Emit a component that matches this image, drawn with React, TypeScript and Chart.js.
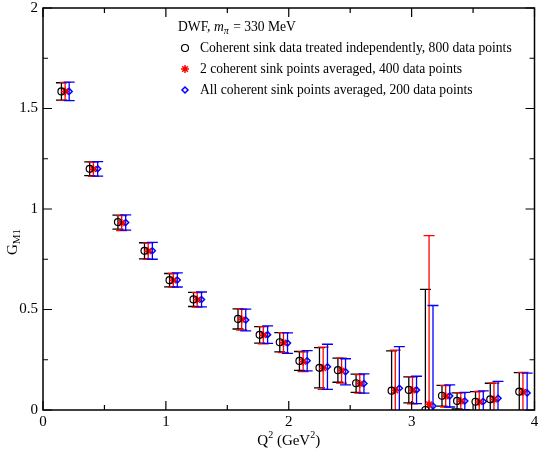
import React, { useEffect, useRef } from 'react';
import { Chart, registerables } from 'chart.js';
Chart.register(...registerables);

// Series 1: coherent sink data treated independently (black circles)
const q2Black = [0.150, 0.380, 0.610, 0.826, 1.030, 1.225, 1.587, 1.763, 1.927, 2.087, 2.250, 2.400, 2.548, 2.837, 2.977, 3.112, 3.247, 3.370, 3.520, 3.640, 3.876];
const gBlack = [1.585, 1.200, 0.935, 0.792, 0.646, 0.550, 0.453, 0.374, 0.337, 0.244, 0.210, 0.198, 0.133, 0.096, 0.100, 0.000, 0.071, 0.045, 0.041, 0.053, 0.091];
const errBlack = [0.043, 0.034, 0.035, 0.040, 0.033, 0.035, 0.050, 0.041, 0.048, 0.047, 0.100, 0.060, 0.045, 0.198, 0.065, 0.600, 0.052, 0.040, 0.050, 0.080, 0.095];

// Series 2: 2 coherent sink points averaged (red stars)
const q2Red = [0.180, 0.410, 0.640, 0.856, 1.060, 1.255, 1.617, 1.793, 1.957, 2.117, 2.280, 2.430, 2.578, 2.867, 3.007, 3.142, 3.277, 3.400, 3.550, 3.670, 3.906];
const gRed = [1.585, 1.198, 0.930, 0.790, 0.645, 0.548, 0.450, 0.372, 0.335, 0.240, 0.208, 0.196, 0.130, 0.098, 0.098, 0.028, 0.068, 0.043, 0.040, 0.052, 0.090];
const errRed = [0.045, 0.035, 0.037, 0.041, 0.034, 0.036, 0.052, 0.043, 0.050, 0.049, 0.105, 0.062, 0.046, 0.200, 0.067, 0.840, 0.053, 0.042, 0.052, 0.082, 0.097];

// Series 3: all coherent sink points averaged (blue diamonds)
const q2Blue = [0.213, 0.445, 0.673, 0.890, 1.093, 1.290, 1.650, 1.828, 1.990, 2.150, 2.315, 2.462, 2.612, 2.900, 3.040, 3.174, 3.310, 3.433, 3.583, 3.703, 3.940];
const gBlue = [1.585, 1.200, 0.933, 0.792, 0.647, 0.550, 0.448, 0.375, 0.333, 0.245, 0.215, 0.190, 0.132, 0.108, 0.100, 0.020, 0.070, 0.045, 0.042, 0.058, 0.085];
const errBlue = [0.046, 0.036, 0.038, 0.042, 0.035, 0.037, 0.054, 0.044, 0.051, 0.050, 0.112, 0.065, 0.048, 0.207, 0.068, 0.500, 0.055, 0.043, 0.053, 0.084, 0.098];

const xTickValues = [0, 1, 2, 3, 4];
const yTickValues = [0, 0.5, 1, 1.5, 2];

const legendTitle = 'DWF, ';
const legendLabels = [
  'Coherent sink data treated independently, 800 data points',
  '2 coherent sink points averaged, 400 data points',
  'All coherent sink points averaged, 200 data points',
];

const FONT = '"Liberation Serif", "Times New Roman", serif';

function pts(xs: number[], ys: number[]) {
  return xs.map((x, i) => ({ x, y: ys[i] }));
}

const errorBarPlugin = {
  id: 'errorBars',
  beforeDatasetsDraw(chart: any) {
    const { ctx, chartArea, scales } = chart;
    ctx.save();
    ctx.beginPath();
    ctx.rect(chartArea.left, chartArea.top, chartArea.right - chartArea.left, chartArea.bottom - chartArea.top);
    ctx.clip();
    chart.data.datasets.forEach((ds: any) => {
      const errs: number[] = ds.errors || [];
      ctx.strokeStyle = ds.borderColor;
      ctx.lineWidth = 1.3;
      ds.data.forEach((p: any, i: number) => {
        const px = scales.x.getPixelForValue(p.x);
        const yTop = scales.y.getPixelForValue(p.y + errs[i]);
        const yBot = scales.y.getPixelForValue(p.y - errs[i]);
        const hw = 5.5;
        ctx.beginPath();
        ctx.moveTo(px, yTop);
        ctx.lineTo(px, yBot);
        ctx.moveTo(px - hw, yTop);
        ctx.lineTo(px + hw, yTop);
        ctx.moveTo(px - hw, yBot);
        ctx.lineTo(px + hw, yBot);
        ctx.stroke();
      });
    });
    ctx.restore();
  },
};

function drawMarker(ctx: CanvasRenderingContext2D, kind: string, x: number, y: number) {
  ctx.save();
  if (kind === 'circle') {
    ctx.strokeStyle = '#000';
    ctx.lineWidth = 1.2;
    ctx.beginPath();
    ctx.arc(x, y, 3.5, 0, Math.PI * 2);
    ctx.stroke();
  } else if (kind === 'star') {
    ctx.strokeStyle = '#ff0000';
    ctx.lineWidth = 1.5;
    const r = 4;
    ctx.beginPath();
    ctx.moveTo(x - r, y); ctx.lineTo(x + r, y);
    ctx.moveTo(x, y - r); ctx.lineTo(x, y + r);
    const d = r * Math.SQRT1_2;
    ctx.moveTo(x - d, y - d); ctx.lineTo(x + d, y + d);
    ctx.moveTo(x - d, y + d); ctx.lineTo(x + d, y - d);
    ctx.stroke();
  } else {
    ctx.strokeStyle = '#0000ff';
    ctx.lineWidth = 1.5;
    const r = 3;
    ctx.beginPath();
    ctx.moveTo(x, y - r); ctx.lineTo(x + r, y); ctx.lineTo(x, y + r); ctx.lineTo(x - r, y); ctx.closePath();
    ctx.stroke();
  }
  ctx.restore();
}

const framePlugin = {
  id: 'frameTicksLegend',
  afterDraw(chart: any) {
    const { ctx, chartArea, scales } = chart;
    const { left, right, top, bottom } = chartArea;
    ctx.save();
    ctx.strokeStyle = '#000';
    ctx.lineWidth = 1.5;
    ctx.strokeRect(left, top, right - left, bottom - top);
    ctx.lineWidth = 1.2;
    // x ticks
    for (let v = 0; v <= 4.0001; v += 0.5) {
      const px = scales.x.getPixelForValue(v);
      const len = Math.abs(v - Math.round(v)) < 1e-6 ? 9 : 5;
      ctx.beginPath();
      ctx.moveTo(px, bottom); ctx.lineTo(px, bottom - len);
      ctx.moveTo(px, top); ctx.lineTo(px, top + len);
      ctx.stroke();
    }
    // y ticks
    for (let v = 0; v <= 2.0001; v += 0.25) {
      const py = scales.y.getPixelForValue(v);
      const len = Math.abs(v * 2 - Math.round(v * 2)) < 1e-6 ? 9 : 5;
      ctx.beginPath();
      ctx.moveTo(left, py); ctx.lineTo(left + len, py);
      ctx.moveTo(right, py); ctx.lineTo(right - len, py);
      ctx.stroke();
    }

    // axis titles
    ctx.fillStyle = '#000';
    ctx.textBaseline = 'alphabetic';
    // x title: Q^2 (GeV^2)
    const xc = (left + right) / 2;
    ctx.font = `15px ${FONT}`;
    const partsW = ctx.measureText('Q').width + ctx.measureText(' (GeV').width + ctx.measureText(')').width;
    ctx.font = `10px ${FONT}`;
    const supW = ctx.measureText('2').width;
    let tx = xc - (partsW + 2 * supW) / 2;
    const ty = 445;
    ctx.font = `15px ${FONT}`;
    ctx.fillText('Q', tx, ty); tx += ctx.measureText('Q').width;
    ctx.font = `10px ${FONT}`;
    ctx.fillText('2', tx, ty - 7); tx += supW;
    ctx.font = `15px ${FONT}`;
    ctx.fillText(' (GeV', tx, ty); tx += ctx.measureText(' (GeV').width;
    ctx.font = `10px ${FONT}`;
    ctx.fillText('2', tx, ty - 7); tx += supW;
    ctx.font = `15px ${FONT}`;
    ctx.fillText(')', tx, ty);

    // y title: G_M1 rotated
    ctx.save();
    ctx.translate(17, 242);
    ctx.rotate(-Math.PI / 2);
    ctx.font = `15px ${FONT}`;
    const gW = ctx.measureText('G').width;
    ctx.font = `11px ${FONT}`;
    const mW = ctx.measureText('M1').width;
    let gx = -(gW + mW) / 2;
    ctx.font = `15px ${FONT}`;
    ctx.fillText('G', gx, 0); gx += gW;
    ctx.font = `11px ${FONT}`;
    ctx.fillText('M1', gx, 3);
    ctx.restore();

    // legend
    const lx = 178;
    ctx.font = `13.6px ${FONT}`;
    let titleX = lx;
    const titleY = 31;
    ctx.fillText(legendTitle, titleX, titleY); titleX += ctx.measureText(legendTitle).width;
    ctx.font = `italic 13.6px ${FONT}`;
    ctx.fillText('m', titleX, titleY); titleX += ctx.measureText('m').width;
    ctx.font = `italic 10px ${FONT}`;
    ctx.fillText('π', titleX, titleY + 3); titleX += ctx.measureText('π').width + 1;
    ctx.font = `13.6px ${FONT}`;
    ctx.fillText(' = 330 MeV', titleX, titleY);

    const kinds = ['circle', 'star', 'diamond'];
    legendLabels.forEach((lbl, i) => {
      const y = 52 + i * 21;
      drawMarker(ctx, kinds[i], 185, y - 4);
      ctx.font = `13.6px ${FONT}`;
      ctx.fillStyle = '#000';
      ctx.fillText(lbl, 200, y);
    });
    ctx.restore();
  },
};

export default function App() {
  const ref = useRef<HTMLCanvasElement | null>(null);
  useEffect(() => {
    if (!ref.current) return;
    const chart = new Chart(ref.current, {
      type: 'scatter',
      data: {
        datasets: [
          {
            label: legendLabels[0],
            data: pts(q2Black, gBlack),
            errors: errBlack,
            borderColor: '#000000',
            backgroundColor: 'rgba(0,0,0,0)',
            pointStyle: 'circle',
            pointRadius: 3.5,
            pointBorderWidth: 1.2,
          } as any,
          {
            label: legendLabels[1],
            data: pts(q2Red, gRed),
            errors: errRed,
            borderColor: '#ff0000',
            backgroundColor: 'rgba(0,0,0,0)',
            pointStyle: 'star',
            pointRadius: 4,
            pointBorderWidth: 1.5,
          } as any,
          {
            label: legendLabels[2],
            data: pts(q2Blue, gBlue),
            errors: errBlue,
            borderColor: '#0000ff',
            backgroundColor: 'rgba(0,0,0,0)',
            pointStyle: 'rectRot',
            pointRadius: 3,
            pointBorderWidth: 1.5,
          } as any,
        ],
      },
      options: {
        responsive: false,
        animation: false,
        devicePixelRatio: 1,
        layout: { padding: 0 },
        plugins: { legend: { display: false }, tooltip: { enabled: false } },
        scales: {
          x: {
            type: 'linear',
            min: 0,
            max: 4,
            afterBuildTicks: (s: any) => { s.ticks = xTickValues.map((v) => ({ value: v })); },
            afterFit: (s: any) => { s.height = 47; s.paddingLeft = 0; s.paddingRight = 2; },
            grid: { display: false, drawTicks: false },
            border: { display: false },
            ticks: { font: { family: FONT, size: 15 }, color: '#000', padding: 3, maxRotation: 0, callback: (v: any) => String(v) },
          },
          y: {
            type: 'linear',
            min: 0,
            max: 2,
            afterBuildTicks: (s: any) => { s.ticks = yTickValues.map((v) => ({ value: v })); },
            afterFit: (s: any) => { s.width = 43; s.paddingTop = 8; s.paddingBottom = 0; },
            grid: { display: false, drawTicks: false },
            border: { display: false },
            ticks: { font: { family: FONT, size: 15 }, color: '#000', padding: 5, callback: (v: any) => String(v) },
          },
        },
      },
      plugins: [errorBarPlugin, framePlugin],
    } as any);
    return () => chart.destroy();
  }, []);
  return (
    <div style={{ position: 'absolute', left: 0, top: 0, width: 540, height: 457, background: '#fff' }}>
      <canvas ref={ref} width={540} height={457} />
    </div>
  );
}
